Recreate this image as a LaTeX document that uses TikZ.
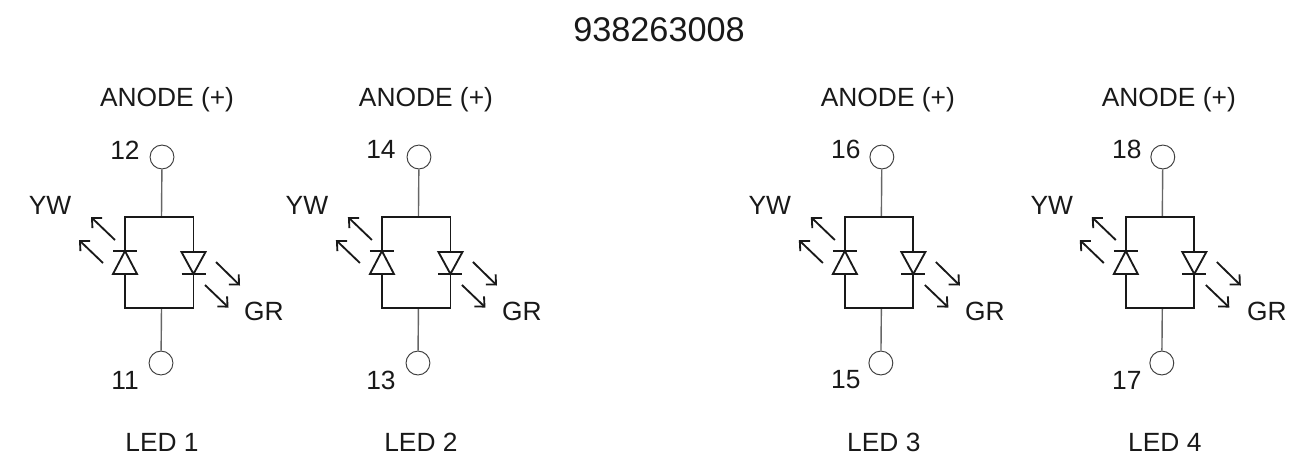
\documentclass[tikz,border=0pt]{standalone}
\usepackage{fontspec}
\setmainfont{Liberation Sans}
\usetikzlibrary{arrows.meta}

\tikzset{
  pad/.style={draw=black!75, fill=white, circle, inner sep=0pt, minimum size=13.6pt, line width=0.55pt},
  wire/.style={black!60, line width=0.8pt},
  lead/.style={black!90, line width=1.05pt},
  beam/.style={black!90, line width=1.05pt, -{Straight Barb[length=4.2pt, width=8pt]}},
  txt/.style={text=black!90, font=\fontsize{15}{18}\selectfont, inner sep=0pt},
}

\begin{document}
\begin{tikzpicture}[x=0.02cm, y=-0.02cm]

  \useasboundingbox (0, 0) rectangle (1291, 454);

  \node[text=black!90, font=\fontsize{19.5}{23}\selectfont, inner sep=0pt] (title) at (659, 30) {938263008};

  % LED 1
  \begin{scope}[xshift=0cm]
    \node[txt] (anode1) at (167, 100) {ANODE (+)};
    \node[txt] (num12) at (125, 150) {12};
    \node[txt] (num11) at (125, 380) {11};
    \node[txt] (yw1) at (50, 205) {YW};
    \node[txt] (gr1) at (264, 311) {GR};
    \node[txt] (name1) at (162, 442) {LED 1};
    \node[pad] (p12) at (162, 157) {};
    \node[pad] (p11) at (161, 363) {};
    \coordinate (top1) at (161.5, 217);
    \coordinate (bot1) at (161.5, 308);
    \coordinate (ya1) at (125, 251);
    \coordinate (yb1) at (125, 274);
    \coordinate (ga1) at (193.5, 252);
    \coordinate (gb1) at (193.5, 274);
    \draw[wire] (p12) -- (top1);
    \draw[wire] (p11) -- (bot1);
    \draw[lead] (ga1) |- (ya1 |- top1) -- (ya1);
    \draw[lead] (gb1) |- (yb1 |- bot1) -- (yb1);
    \draw[lead] (113, 251) -- (137, 251);
    \draw[lead] (ya1) -- (137, 274) -- (113, 274) -- cycle;
    \draw[lead] (181.5, 274) -- (205.5, 274);
    \draw[lead] (gb1) -- (205.5, 252) -- (181.5, 252) -- cycle;
    \draw[beam] (115, 240) -- (91, 217);
    \draw[beam] (103, 263) -- (79, 240);
    \draw[beam] (216, 262) -- (240, 285.5);
    \draw[beam] (205, 285) -- (228.5, 307.5);
  \end{scope}

  % LED 2
  \begin{scope}[xshift=5.14cm]
    \node[txt] (anode2) at (169, 100) {ANODE (+)};
    \node[txt] (num14) at (124, 149) {14};
    \node[txt] (num13) at (124, 380) {13};
    \node[txt] (yw2) at (50, 205) {YW};
    \node[txt] (gr2) at (265, 311) {GR};
    \node[txt] (name2) at (164, 442) {LED 2};
    \node[pad] (p14) at (162, 157) {};
    \node[pad] (p13) at (161, 363) {};
    \coordinate (top2) at (161.5, 217);
    \coordinate (bot2) at (161.5, 308);
    \coordinate (ya2) at (125, 251);
    \coordinate (yb2) at (125, 274);
    \coordinate (ga2) at (193.5, 252);
    \coordinate (gb2) at (193.5, 274);
    \draw[wire] (p14) -- (top2);
    \draw[wire] (p13) -- (bot2);
    \draw[lead] (ga2) |- (ya2 |- top2) -- (ya2);
    \draw[lead] (gb2) |- (yb2 |- bot2) -- (yb2);
    \draw[lead] (113, 251) -- (137, 251);
    \draw[lead] (ya2) -- (137, 274) -- (113, 274) -- cycle;
    \draw[lead] (181.5, 274) -- (205.5, 274);
    \draw[lead] (gb2) -- (205.5, 252) -- (181.5, 252) -- cycle;
    \draw[beam] (115, 240) -- (91, 217);
    \draw[beam] (103, 263) -- (79, 240);
    \draw[beam] (216, 262) -- (240, 285.5);
    \draw[beam] (205, 285) -- (228.5, 307.5);
  \end{scope}

  % LED 3
  \begin{scope}[xshift=14.4cm]
    \node[txt] (anode3) at (168, 100) {ANODE (+)};
    \node[txt] (num16) at (126, 149) {16};
    \node[txt] (num15) at (126, 380) {15};
    \node[txt] (yw3) at (50, 205) {YW};
    \node[txt] (gr3) at (265, 311) {GR};
    \node[txt] (name3) at (164, 442) {LED 3};
    \node[pad] (p16) at (162, 157) {};
    \node[pad] (p15) at (161, 363) {};
    \coordinate (top3) at (161.5, 217);
    \coordinate (bot3) at (161.5, 308);
    \coordinate (ya3) at (125, 251);
    \coordinate (yb3) at (125, 274);
    \coordinate (ga3) at (193.5, 252);
    \coordinate (gb3) at (193.5, 274);
    \draw[wire] (p16) -- (top3);
    \draw[wire] (p15) -- (bot3);
    \draw[lead] (ga3) |- (ya3 |- top3) -- (ya3);
    \draw[lead] (gb3) |- (yb3 |- bot3) -- (yb3);
    \draw[lead] (113, 251) -- (137, 251);
    \draw[lead] (ya3) -- (137, 274) -- (113, 274) -- cycle;
    \draw[lead] (181.5, 274) -- (205.5, 274);
    \draw[lead] (gb3) -- (205.5, 252) -- (181.5, 252) -- cycle;
    \draw[beam] (115, 240) -- (91, 217);
    \draw[beam] (103, 263) -- (79, 240);
    \draw[beam] (216, 262) -- (240, 285.5);
    \draw[beam] (205, 285) -- (228.5, 307.5);
  \end{scope}

  % LED 4
  \begin{scope}[xshift=20.02cm]
    \node[txt] (anode4) at (168, 100) {ANODE (+)};
    \node[txt] (num18) at (126, 149) {18};
    \node[txt] (num17) at (126, 380) {17};
    \node[txt] (yw4) at (51, 205) {YW};
    \node[txt] (gr4) at (266, 311) {GR};
    \node[txt] (name4) at (164, 442) {LED 4};
    \node[pad] (p18) at (162, 157) {};
    \node[pad] (p17) at (161, 363) {};
    \coordinate (top4) at (161.5, 217);
    \coordinate (bot4) at (161.5, 308);
    \coordinate (ya4) at (125, 251);
    \coordinate (yb4) at (125, 274);
    \coordinate (ga4) at (193.5, 252);
    \coordinate (gb4) at (193.5, 274);
    \draw[wire] (p18) -- (top4);
    \draw[wire] (p17) -- (bot4);
    \draw[lead] (ga4) |- (ya4 |- top4) -- (ya4);
    \draw[lead] (gb4) |- (yb4 |- bot4) -- (yb4);
    \draw[lead] (113, 251) -- (137, 251);
    \draw[lead] (ya4) -- (137, 274) -- (113, 274) -- cycle;
    \draw[lead] (181.5, 274) -- (205.5, 274);
    \draw[lead] (gb4) -- (205.5, 252) -- (181.5, 252) -- cycle;
    \draw[beam] (115, 240) -- (91, 217);
    \draw[beam] (103, 263) -- (79, 240);
    \draw[beam] (216, 262) -- (240, 285.5);
    \draw[beam] (205, 285) -- (228.5, 307.5);
  \end{scope}

\end{tikzpicture}
\end{document}
